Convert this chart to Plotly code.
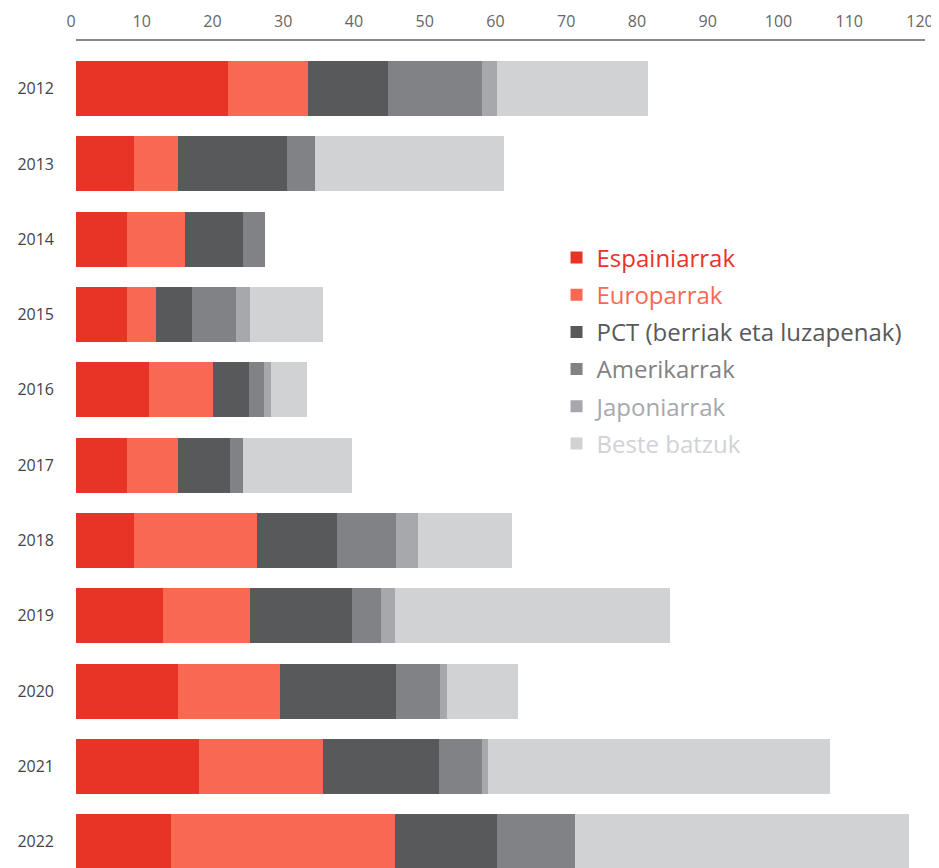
import plotly.graph_objects as go

# Data
years = ["2012", "2013", "2014", "2015", "2016", "2017",
         "2018", "2019", "2020", "2021", "2022"]

espainiarrak = [21.5, 8.2, 7.2, 7.2, 10.3, 7.2, 8.2, 12.3, 14.4, 17.4, 13.4]
europarrak = [11.3, 6.2, 8.2, 4.1, 9.1, 7.2, 17.4, 12.3, 14.4, 17.5, 31.7]
pct = [11.3, 15.4, 8.2, 5.1, 5.1, 7.3, 11.3, 14.4, 16.4, 16.4, 14.4]
amerikarrak = [13.3, 4.0, 3.1, 6.2, 2.1, 1.9, 8.3, 4.1, 6.2, 6.1, 11.1]
japoniarrak = [2.1, 0, 0, 2.0, 1.0, 0, 3.1, 2.0, 1.0, 0.9, 0]
beste = [21.4, 26.7, 0, 10.3, 5.1, 15.4, 13.3, 38.9, 10.1, 48.3, 47.1]

x_ticks = list(range(0, 121, 10))

series = [
    ("Espainiarrak", espainiarrak, "#e83427"),
    ("Europarrak", europarrak, "#f86852"),
    ("PCT (berriak eta luzapenak)", pct, "#58595b"),
    ("Amerikarrak", amerikarrak, "#818285"),
    ("Japoniarrak", japoniarrak, "#a7a8ab"),
    ("Beste batzuk", beste, "#d1d2d4"),
]

fig = go.Figure()

for name, values, color in series:
    fig.add_trace(go.Bar(
        y=years,
        x=values,
        orientation='h',
        name=f'<span style="color:{color}">{name}</span>',
        legendgroup=name,
        marker=dict(color=color, line=dict(width=0)),
    ))

# page body adds an 8px margin, so the figure is a bit smaller than the window
fig.update_layout(
    width=931,
    height=860,
    barmode='stack',
    bargap=0.27,
    plot_bgcolor='white',
    paper_bgcolor='white',
    font=dict(family="Open Sans", color="#444444"),
    margin=dict(l=68, r=14, t=32, b=0),
    legend=dict(
        x=0.566,
        y=0.764,
        xanchor='left',
        yanchor='top',
        traceorder='grouped',
        tracegroupgap=3,
        font=dict(size=24),
        bgcolor='rgba(0,0,0,0)',
    ),
)

fig.update_xaxes(
    side='top',
    range=[0, 120],
    tickvals=x_ticks,
    showgrid=False,
    zeroline=False,
    showline=True,
    linecolor='#8a8a8a',
    linewidth=2,
    anchor='free',
    position=1,
    ticks='',
    ticklabelstandoff=6,
    ticklabelshift=-5,
    automargin=False,
    tickfont=dict(size=16, color='#666666'),
)

fig.update_yaxes(
    type='category',
    categoryorder='array',
    categoryarray=years,
    range=[10.35, -0.5],
    domain=[0, 0.9867],
    showgrid=False,
    zeroline=False,
    showline=False,
    ticks='',
    ticklabelstandoff=21,
    automargin=False,
    tickfont=dict(size=16, color='#444444'),
)

fig.write_html("out.html")
